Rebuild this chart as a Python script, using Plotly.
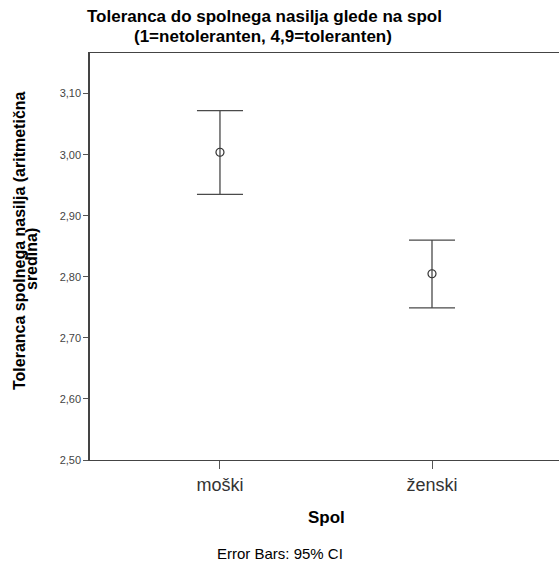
import plotly.graph_objects as go

categories = ["moški", "ženski"]
means = [3.004, 2.805]
ci_upper = [3.072, 2.860]
ci_lower = [2.935, 2.749]
y_ticks = [2.50, 2.60, 2.70, 2.80, 2.90, 3.00, 3.10]

x_pos = list(range(len(categories)))
err_plus = [u - m for u, m in zip(ci_upper, means)]
err_minus = [m - l for m, l in zip(means, ci_lower)]

FONT = "Arial, Liberation Sans, sans-serif"

fig = go.Figure()
fig.add_trace(go.Scatter(
    x=x_pos, y=means, mode="markers",
    marker=dict(symbol="circle-open", size=8, color="#333333", line=dict(width=1.2)),
    error_y=dict(type="data", symmetric=False, array=err_plus, arrayminus=err_minus,
                 color="#4a4a4a", thickness=1.3, width=23),
    showlegend=False, hoverinfo="skip",
))

fig.update_layout(
    width=559, height=563,
    margin=dict(l=90, r=0, t=53, b=103),
    paper_bgcolor="white", plot_bgcolor="white",
    separators=",.",
    font=dict(family=FONT, color="#000000"),
    xaxis=dict(
        range=[-0.613, 1.599], tickmode="array", tickvals=x_pos, ticktext=categories,
        showgrid=False, zeroline=False, showline=True, mirror=True,
        linecolor="#444444", linewidth=1.2,
        ticks="outside", ticklen=8, tickcolor="#555555", tickwidth=1.2,
        tickfont=dict(size=18, color="#333333", family=FONT),
    ),
    yaxis=dict(
        range=[2.5, 3.1665], tickmode="array", tickvals=y_ticks, tickformat=".2f",
        showgrid=False, zeroline=False, showline=True,
        linecolor="#444444", linewidth=1.5,
        ticks="outside", ticklen=5, tickcolor="#555555", tickwidth=1.2,
        tickfont=dict(size=11, color="#444444", family=FONT),
    ),
)

ann = [
    dict(text="<b>Toleranca do spolnega nasilja glede na spol</b>", x=264, y=563-17, size=17),
    dict(text="<b>(1=netoleranten, 4,9=toleranten)</b>", x=263, y=563-36, size=17),
    dict(text="<b>Spol</b>", x=326, y=563-517, size=17),
    dict(text="Error Bars: 95% CI", x=280, y=563-553, size=15),
]
for a in ann:
    fig.add_annotation(text=a["text"], xref="paper", yref="paper",
                       x=(a["x"] - 90) / 469, y=(a["y"] - 103) / 407,
                       showarrow=False, xanchor="center", yanchor="middle",
                       font=dict(size=a["size"], family=FONT, color="#000000"))

for txt, xc, yc in [("<b>Toleranca spolnega nasilja (aritmetična</b>", 19, 241), ("<b>sredina)</b>", 31, 259)]:
    fig.add_annotation(text=txt, xref="paper", yref="paper",
                       x=(xc - 90) / 469, y=(563 - yc - 103) / 407,
                       showarrow=False, xanchor="center", yanchor="middle", textangle=-90,
                       font=dict(size=16, family=FONT, color="#000000"))

fig.write_html("out.html")
